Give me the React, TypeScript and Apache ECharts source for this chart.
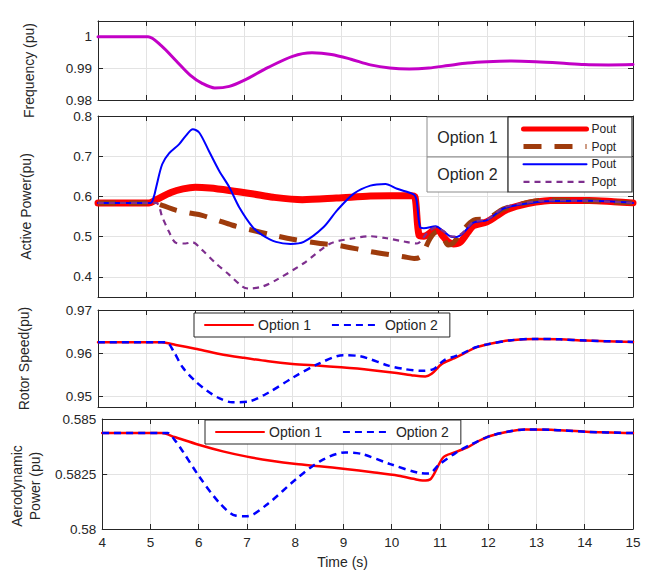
import React, { useEffect, useRef } from "react";
import * as echarts from "echarts";

// ---------- data ----------
const timeRange = [4, 15];

const frequency: [number, number][] = [
  [4, 1], [4.9, 1], [5.03, 1], [5.3, 0.9972], [5.6, 0.9925], [5.9, 0.9878], [6.15, 0.9852],
  [6.4, 0.9838], [6.7, 0.9843], [7.0, 0.9862], [7.5, 0.9903], [8.0, 0.9938], [8.4, 0.9949],
  [8.8, 0.9944], [9.2, 0.9929], [9.6, 0.9911], [10.0, 0.9901], [10.4, 0.9898], [10.8, 0.9901],
  [11.2, 0.9909], [11.6, 0.9917], [12.0, 0.9921], [12.5, 0.9923], [13.0, 0.9921], [13.5, 0.9917],
  [14.0, 0.9912], [14.5, 0.9911], [15, 0.9912],
];

const pout1: [number, number][] = [
  [4, 0.584], [5.05, 0.584], [5.2, 0.592], [5.5, 0.61], [5.75, 0.619], [6.0, 0.623], [6.3, 0.621],
  [6.7, 0.615], [7.2, 0.606], [7.6, 0.598], [8.2, 0.592], [8.9, 0.596], [9.6, 0.601], [10.0, 0.602],
  [10.45, 0.602], [10.52, 0.598], [10.6, 0.504], [10.7, 0.501], [10.9, 0.515], [10.98, 0.516],
  [11.1, 0.5], [11.2, 0.487], [11.31, 0.482], [11.45, 0.487], [11.6, 0.51], [11.72, 0.527],
  [12.0, 0.537], [12.2, 0.552], [12.4, 0.567], [12.68, 0.578], [13.0, 0.586], [13.3, 0.59],
  [14.1, 0.59], [14.6, 0.587], [15, 0.584],
];

const popt1: [number, number][] = [
  [4, 0.584], [5.13, 0.584], [5.32, 0.578], [5.6, 0.566], [5.87, 0.559], [6.14, 0.553], [6.45, 0.541],
  [6.75, 0.529], [7.1, 0.518], [7.66, 0.502], [8.03, 0.493], [8.57, 0.483], [8.92, 0.479], [9.6, 0.463],
  [10.29, 0.45], [10.5, 0.446], [10.62, 0.449], [10.7, 0.463], [10.83, 0.496], [10.97, 0.512],
  [11.1, 0.497], [11.2, 0.479], [11.3, 0.484], [11.45, 0.508], [11.72, 0.541], [12.0, 0.545],
  [12.34, 0.569], [12.68, 0.581], [13.23, 0.591], [14.1, 0.589], [15, 0.584],
];

const pout2: [number, number][] = [
  [4, 0.584], [5.08, 0.584], [5.15, 0.6], [5.2, 0.625], [5.32, 0.68], [5.46, 0.707], [5.67, 0.73],
  [5.8, 0.75], [5.95, 0.767], [6.08, 0.759], [6.28, 0.713], [6.49, 0.664], [6.7, 0.623], [6.9, 0.574],
  [7.18, 0.524], [7.38, 0.504], [7.66, 0.487], [7.96, 0.482], [8.23, 0.487], [8.64, 0.524],
  [8.92, 0.566], [9.26, 0.607], [9.6, 0.627], [9.91, 0.631], [10.15, 0.619], [10.49, 0.605],
  [10.55, 0.59], [10.62, 0.524], [10.7, 0.521], [10.94, 0.526], [11.1, 0.514], [11.24, 0.501],
  [11.35, 0.499], [11.5, 0.508], [11.72, 0.535], [12.0, 0.541], [12.34, 0.57], [12.68, 0.58],
  [13.23, 0.588], [14.1, 0.589], [15, 0.584],
];

const popt2: [number, number][] = [
  [4, 0.584], [5.19, 0.584], [5.32, 0.549], [5.46, 0.512], [5.6, 0.485], [5.8, 0.483], [5.94, 0.486],
  [6.14, 0.467], [6.42, 0.434], [6.7, 0.405], [6.97, 0.376], [7.1, 0.371], [7.38, 0.376], [7.66, 0.392],
  [8.23, 0.434], [8.78, 0.483], [9.26, 0.496], [9.6, 0.501], [9.94, 0.496], [10.29, 0.488],
  [10.56, 0.483], [10.76, 0.508], [10.94, 0.523], [11.1, 0.514], [11.24, 0.501], [11.35, 0.5],
  [11.5, 0.51], [11.72, 0.537], [12.0, 0.543], [12.34, 0.572], [12.68, 0.582], [13.23, 0.59],
  [14.1, 0.589], [15, 0.584],
];

const rotor1: [number, number][] = [
  [4, 0.9625], [5.3, 0.9625], [5.6, 0.9619], [6.0, 0.961], [6.5, 0.9598], [7.0, 0.9589], [7.5, 0.9581],
  [8.0, 0.9575], [8.5, 0.9571], [9.0, 0.9567], [9.6, 0.9561], [10.14, 0.9554], [10.5, 0.9548],
  [10.73, 0.9546], [10.86, 0.9552], [11.07, 0.9575], [11.3, 0.9587], [11.49, 0.9597], [11.75, 0.9612],
  [12.04, 0.9621], [12.5, 0.963], [13.0, 0.9633], [13.5, 0.9632], [14.03, 0.9629], [15, 0.9626],
];

const rotor2: [number, number][] = [
  [4, 0.9625], [5.4, 0.9625], [5.55, 0.9605], [5.74, 0.9567], [6.0, 0.9535], [6.25, 0.9512],
  [6.5, 0.9495], [6.76, 0.9486], [7.1, 0.9488], [7.5, 0.9508], [8.02, 0.9544], [8.53, 0.9575],
  [9.04, 0.9595], [9.38, 0.9593], [9.97, 0.9571], [10.3, 0.9563], [10.64, 0.9559], [10.9, 0.9563],
  [11.11, 0.9583], [11.3, 0.9591], [11.49, 0.9599], [11.75, 0.9613], [12.04, 0.9621], [12.5, 0.963],
  [13.0, 0.9633], [13.5, 0.9632], [14.03, 0.9629], [15, 0.9626],
];

const aero1: [number, number][] = [
  [4, 0.58436], [5.23, 0.58436], [5.5, 0.58418], [6.0, 0.58383], [6.5, 0.58353], [7.0, 0.58329],
  [7.5, 0.5831], [8.02, 0.58295], [8.5, 0.58285], [9.04, 0.58273], [9.6, 0.58258], [10.14, 0.58242],
  [10.45, 0.58228], [10.64, 0.5822], [10.81, 0.58228], [11.07, 0.58326], [11.3, 0.58348],
  [11.57, 0.58371], [11.8, 0.584], [12.04, 0.58423], [12.4, 0.58442], [12.76, 0.58452],
  [13.3, 0.58451], [14.03, 0.58442], [15, 0.58436],
];

const aero2: [number, number][] = [
  [4, 0.58436], [5.36, 0.58436], [5.5, 0.58405], [5.66, 0.58356], [6.0, 0.58242], [6.42, 0.58121],
  [6.76, 0.58061], [7.0, 0.58058], [7.43, 0.58114], [8.02, 0.58227], [8.53, 0.5831], [9.04, 0.58348],
  [9.38, 0.58341], [9.97, 0.58295], [10.56, 0.58255], [10.77, 0.58252], [10.98, 0.58292],
  [11.32, 0.58345], [11.66, 0.58386], [12.04, 0.58423], [12.4, 0.58442], [12.76, 0.58452],
  [13.3, 0.58451], [14.03, 0.58442], [15, 0.58436],
];

const panelNames = ["Frequency (pu)", "Active Power(pu)", "Rotor Speed(pu)", "Aerodynamic\nPower (pu)"];
const optionNames = ["Option 1", "Option 2"];
const powerNames = ["Option 1 Pout", "Option 1 Popt", "Option 2 Pout", "Option 2 Popt"];

// ---------- styles ----------
const FONT = "Liberation Sans, Arial, Helvetica, sans-serif";
const TXT = "#262626";
const FRAME = "#262626";
const GRIDC = "#e3e3e3";

const grids = [
  { left: 98, right: 13, top: 7, height: 93 },
  { left: 98, right: 13, top: 116, height: 181 },
  { left: 98, right: 13, top: 310, height: 97 },
  { left: 98, right: 13, top: 419, height: 110 },
];

const yRanges = [
  { min: 0.98, max: 1.005, step: 0.01 },
  { min: 0.35, max: 0.8, step: 0.1 },
  { min: 0.9475, max: 0.97, step: 0.01 },
  { min: 0.58, max: 0.585, step: 0.0025 },
];
const nameGaps = [69, 72, 74, 68];
const namePads = [
  [0, 20, 0, 0],
  [0, 0, 0, 0],
  [0, 0, 0, 0],
  [0, 24, 0, 0],
];

const fmt = (v: number) => String(parseFloat(v.toFixed(5)));

const hiddenSymbol = { color: "rgba(0,0,0,0)", borderColor: "rgba(0,0,0,0)", borderWidth: 0, opacity: 0 };

function buildOption() {
  const xAxis: any[] = [];
  const yAxis: any[] = [];
  grids.forEach((_, i) => {
    const last = i === grids.length - 1;
    const common = {
      type: "value",
      gridIndex: i,
      min: timeRange[0],
      max: timeRange[1],
      interval: 1,
      axisLine: { show: true, onZero: false, lineStyle: { color: FRAME, width: 1 } },
      axisTick: { show: true, inside: true, length: 5, lineStyle: { color: FRAME } },
    };
    xAxis.push({
      ...common,
      position: "bottom",
      axisLabel: { show: last, margin: 6, fontSize: 13.5, color: TXT, fontFamily: FONT },
      splitLine: { show: true, lineStyle: { color: GRIDC, width: 1 } },
      name: last ? "Time (s)" : "",
      nameLocation: "middle",
      nameGap: 33,
      nameTextStyle: { fontSize: 14, color: TXT, fontFamily: FONT, verticalAlign: "middle", padding: [0, 50, 0, 0] },
    });
    xAxis.push({ ...common, position: "top", axisLabel: { show: false }, splitLine: { show: false } });

    const r = yRanges[i];
    const ycommon: any = {
      type: "value",
      gridIndex: i,
      min: r.min,
      max: r.max,
      axisLine: { show: true, onZero: false, lineStyle: { color: FRAME, width: 1 } },
      axisTick: { show: true, inside: true, length: 5, lineStyle: { color: FRAME } },
    };
    if (i === 0 || i === 3) {
      ycommon.interval = r.step;
    } else {
      ycommon.minInterval = r.step;
      ycommon.maxInterval = r.step;
    }
    yAxis.push({
      ...ycommon,
      position: "left",
      axisLabel: {
        show: true,
        margin: 6,
        fontSize: 13.5,
        color: TXT,
        fontFamily: FONT,
        formatter: fmt,
        showMinLabel: i === 1 || i === 2 ? false : true,
        showMaxLabel: i === 0 ? false : true,
      },
      splitLine: { show: true, lineStyle: { color: GRIDC, width: 1 } },
      name: panelNames[i],
      nameLocation: "middle",
      nameGap: nameGaps[i],
      nameTextStyle: {
        fontSize: 14,
        color: TXT,
        fontFamily: FONT,
        verticalAlign: "middle",
        align: "center",
        lineHeight: 18,
        padding: namePads[i],
      },
    });
    yAxis.push({ ...ycommon, position: "right", axisLabel: { show: false }, splitLine: { show: false } });
  });

  const line = (name: string, data: [number, number][], g: number, color: string, width: number, type: any = "solid") => ({
    type: "line",
    name,
    data,
    xAxisIndex: g * 2,
    yAxisIndex: g * 2,
    symbol: "none",
    showSymbol: false,
    smooth: 0.3,
    lineStyle: { color, width, type, cap: type === "solid" ? "round" : "butt", join: "round" },
    itemStyle: { color },
    emphasis: { disabled: true },
  });

  const series = [
    line("Frequency", frequency, 0, "#c200c6", 3),
    line(powerNames[0], pout1, 1, "#ff0000", 7),
    line(powerNames[1], popt1, 1, "#9e3b0c", 5, [18, 13]),
    line(powerNames[2], pout2, 1, "#0000ff", 2),
    line(powerNames[3], popt2, 1, "#7e2f8e", 2.2, [6, 5]),
    line(optionNames[0], rotor1, 2, "#ff0000", 2.5),
    line(optionNames[1], rotor2, 2, "#0000ff", 2.5, [7, 5]),
    line(optionNames[0], aero1, 3, "#ff0000", 2.5),
    line(optionNames[1], aero2, 3, "#0000ff", 2.5, [7, 5]),
  ];

  const legendBase = {
    selectedMode: false,
    textStyle: { fontSize: 14, color: TXT, fontFamily: FONT },
    borderColor: FRAME,
    borderWidth: 1,
    borderRadius: 0,
    backgroundColor: "#fff",
    itemWidth: 48,
    itemHeight: 12,
    itemGap: 20,
    padding: [5, 12, 5, 10],
    itemStyle: hiddenSymbol,
    z: 20,
  };

  const powerLegendWidths = [5, 5, 2, 2.2];

  const legend = [
    {
      selectedMode: false,
      orient: "vertical",
      left: 521,
      top: 123,
      itemWidth: 63,
      itemHeight: 12,
      itemGap: 5.6,
      padding: 0,
      data: powerNames.map((n, k) => ({ name: n, lineStyle: { width: powerLegendWidths[k] } })),
      itemStyle: hiddenSymbol,
      formatter: (n: string) => n.split(" ").pop(),
      textStyle: { fontSize: 12, lineHeight: 12, color: TXT, fontFamily: FONT },
      z: 30,
    },
    { ...legendBase, left: 194, top: 313, data: optionNames },
    { ...legendBase, left: 205, top: 420, data: optionNames },
  ];

  const graphic = [
    { type: "rect", z: 25, shape: { x: 427, y: 117, width: 81, height: 40 }, style: { fill: "#fff", stroke: "#8c8c8c", lineWidth: 1 } },
    { type: "rect", z: 25, shape: { x: 427, y: 157, width: 81, height: 35 }, style: { fill: "#fff", stroke: "#8c8c8c", lineWidth: 1 } },
    { type: "rect", z: 25, shape: { x: 508, y: 117, width: 124, height: 75 }, style: { fill: "#fff", stroke: FRAME, lineWidth: 1.2 } },
    { type: "line", z: 26, shape: { x1: 508, y1: 157, x2: 632, y2: 157 }, style: { stroke: "#555", lineWidth: 1 } },
    { type: "text", z: 27, x: 467.5, y: 137, style: { text: optionNames[0], fontSize: 16, fill: TXT, fontFamily: FONT, align: "center", verticalAlign: "middle" } },
    { type: "text", z: 27, x: 467.5, y: 174.5, style: { text: optionNames[1], fontSize: 16, fill: TXT, fontFamily: FONT, align: "center", verticalAlign: "middle" } },
  ];

  return {
    animation: false,
    backgroundColor: "#fff",
    textStyle: { fontFamily: FONT },
    grid: grids,
    xAxis,
    yAxis,
    series,
    legend,
    graphic,
  };
}

export default function App() {
  const ref = useRef<HTMLDivElement>(null);
  useEffect(() => {
    if (!ref.current) return;
    const chart = echarts.init(ref.current, undefined, { renderer: "svg" });
    chart.setOption(buildOption() as any);
    return () => chart.dispose();
  }, []);
  return (
    <div
      ref={ref}
      style={{ position: "fixed", left: 0, top: 0, width: 646, height: 576, background: "#fff" }}
    />
  );
}
